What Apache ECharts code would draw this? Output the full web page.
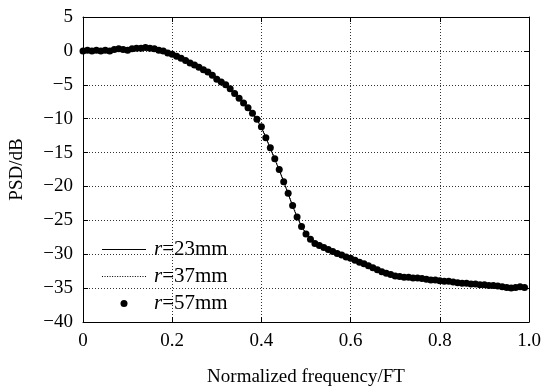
<!DOCTYPE html>
<html><head><meta charset="utf-8">
<script src="https://cdn.jsdelivr.net/npm/echarts@6/dist/echarts.min.js"></script>
<style>html,body{margin:0;padding:0;background:#fff}#c{width:546px;height:392px}</style>
</head><body><div id="c"></div>
<script>
var freq = [];
for (var i = 0; i < 100; i++) freq.push(+(i * 0.01).toFixed(2));

var psd57 = [0.0,0.1,0.0,0.1,0.0,0.1,0.0,0.2,0.3,0.2,
  0.1,0.3,0.4,0.4,0.5,0.4,0.3,0.1,0.0,-0.3,
  -0.5,-0.8,-1.1,-1.4,-1.8,-2.1,-2.4,-2.8,-3.1,-3.6,
  -4.2,-4.6,-5.0,-5.6,-6.3,-7.0,-7.7,-8.4,-9.2,-10.1,
  -11.2,-12.8,-14.3,-15.9,-17.5,-19.3,-21.0,-22.8,-24.5,-25.9,
  -27.0,-27.8,-28.4,-28.7,-29.0,-29.3,-29.6,-29.9,-30.1,-30.4,
  -30.6,-30.9,-31.2,-31.4,-31.7,-32.0,-32.3,-32.6,-32.8,-33.0,
  -33.2,-33.3,-33.4,-33.4,-33.5,-33.5,-33.6,-33.7,-33.8,-33.8,
  -33.9,-34.0,-34.0,-34.1,-34.2,-34.3,-34.3,-34.4,-34.4,-34.5,
  -34.5,-34.6,-34.6,-34.7,-34.8,-34.9,-35.0,-34.9,-34.8,-34.9];
var psd23 = [0.0,0.0,0.1,0.0,0.1,0.0,0.1,0.2,0.2,0.2,
  0.2,0.3,0.4,0.5,0.5,0.4,0.3,0.1,-0.1,-0.3,
  -0.5,-0.8,-1.1,-1.4,-1.8,-2.1,-2.4,-2.8,-3.2,-3.7,
  -4.2,-4.6,-5.1,-5.6,-6.3,-7.0,-7.7,-8.4,-9.3,-10.2,
  -11.3,-12.8,-14.4,-16.0,-17.6,-19.3,-21.1,-22.9,-24.5,-25.9,
  -27.0,-27.8,-28.4,-28.8,-29.1,-29.4,-29.7,-29.9,-30.2,-30.4,
  -30.7,-31.0,-31.2,-31.5,-31.8,-32.1,-32.4,-32.6,-32.9,-33.1,
  -33.3,-33.4,-33.5,-33.5,-33.6,-33.7,-33.8,-33.9,-34.0,-34.0,
  -34.1,-34.2,-34.2,-34.3,-34.4,-34.5,-34.5,-34.6,-34.7,-34.7,
  -34.8,-34.9,-34.9,-35.0,-35.1,-35.2,-35.3,-35.2,-35.0,-34.9];
var psd37 = [0.0,0.1,0.1,0.0,0.0,0.1,0.1,0.1,0.2,0.3,
  0.2,0.3,0.3,0.4,0.5,0.5,0.3,0.2,0.0,-0.2,
  -0.5,-0.8,-1.1,-1.5,-1.8,-2.1,-2.5,-2.8,-3.1,-3.6,
  -4.1,-4.6,-5.0,-5.6,-6.2,-6.9,-7.6,-8.4,-9.2,-10.1,
  -11.2,-12.7,-14.3,-15.9,-17.5,-19.2,-21.0,-22.8,-24.4,-25.8,
  -26.9,-27.8,-28.4,-28.8,-29.0,-29.3,-29.6,-29.9,-30.1,-30.4,
  -30.6,-30.9,-31.2,-31.5,-31.8,-32.1,-32.4,-32.6,-32.8,-33.0,
  -33.2,-33.3,-33.4,-33.5,-33.5,-33.6,-33.7,-33.8,-33.9,-33.9,
  -34.0,-34.1,-34.1,-34.2,-34.3,-34.4,-34.4,-34.5,-34.6,-34.6,
  -34.7,-34.8,-34.8,-34.9,-35.0,-35.1,-35.2,-35.1,-34.9,-34.9];

var seriesNames = ['r=23mm', 'r=37mm', 'r=57mm'];
var xTickLabels = ['0','0.2','0.4','0.6','0.8','1.0'];
var yTickLabels = ['\u221240','\u221235','\u221230','\u221225','\u221220','\u221215','\u221210','\u22125','0','5'];

function pairs(ys){ return freq.map(function(x,i){ return [x, ys[i]]; }); }

// legend sample icons (solid and dotted horizontal strokes)
var solidIcon = 'path://M0,0h44v1h-44z';
var dottedIcon = 'path://';
for (var k = 0; k < 44; k += 2.5) dottedIcon += 'M' + k + ',0h1v1h-1z';

var FONT = '"Liberation Serif", "Times New Roman", serif';
var grid = {left:81, right:17, top:17, bottom:70};
var dotted = {show:true, lineStyle:{color:'#333', type:[1,2], width:1}};

var chart = echarts.init(document.getElementById('c'));
chart.setOption({
  animation:false,
  backgroundColor:'#fff',
  grid: grid,
  legend: {
    left:97, top:234, orient:'vertical', itemWidth:44, itemHeight:7, itemGap:6,
    data: [
      {name:seriesNames[0], icon:solidIcon},
      {name:seriesNames[1], icon:dottedIcon},
      {name:seriesNames[2], icon:'circle'}
    ],
    itemStyle:{opacity:1},
    formatter: function(n){ return '{i|r}{t|' + n.slice(1) + '}'; },
    textStyle: {fontFamily:FONT, fontSize:21, color:'#000', lineHeight:20,
      rich:{ i:{fontFamily:FONT, fontSize:21, fontStyle:'italic', color:'#000', lineHeight:20, padding:[0,0,0,3]},
             t:{fontFamily:FONT, fontSize:21, color:'#000', lineHeight:20} } }
  },
  xAxis: [{
    type:'value', min:0, max:1, interval:0.2,
    name:'Normalized frequency/FT', nameLocation:'middle', nameGap:46,
    nameTextStyle:{fontFamily:FONT, fontSize:19, color:'#000'},
    axisLine:{show:true, onZero:false, lineStyle:{color:'#000', width:1}},
    axisTick:{show:true, inside:true, length:5, lineStyle:{color:'#000'}},
    axisLabel:{fontFamily:FONT, fontSize:19, color:'#000', margin:10,
      formatter:function(v){ return xTickLabels[Math.round(v/0.2)]; }},
    splitLine: dotted
  },{
    type:'value', min:0, max:1, interval:0.2, position:'top',
    axisLine:{show:true, onZero:false, lineStyle:{color:'#000', width:1}},
    axisTick:{show:true, inside:true, length:5, lineStyle:{color:'#000'}},
    axisLabel:{show:false}, splitLine:{show:false}
  }],
  yAxis: [{
    type:'value', min:-40, max:5, interval:5,
    name:'PSD/dB', nameLocation:'middle', nameGap:56,
    nameTextStyle:{fontFamily:FONT, fontSize:19, color:'#000'},
    axisLine:{show:true, onZero:false, lineStyle:{color:'#000', width:1}},
    axisTick:{show:true, inside:true, length:5, lineStyle:{color:'#000'}},
    axisLabel:{fontFamily:FONT, fontSize:19, color:'#000', margin:10,
      formatter:function(v){ return yTickLabels[Math.round((v+40)/5)]; }},
    splitLine: dotted
  },{
    type:'value', min:-40, max:5, interval:5, position:'right',
    axisLine:{show:true, onZero:false, lineStyle:{color:'#000', width:1}},
    axisTick:{show:true, inside:true, length:5, lineStyle:{color:'#000'}},
    axisLabel:{show:false}, splitLine:{show:false}
  }],
  series: [
    {name:seriesNames[0], type:'line', data:pairs(psd23), symbol:'none',
     lineStyle:{color:'#000', width:1}, itemStyle:{color:'#000'}, z:3},
    {name:seriesNames[1], type:'line', data:pairs(psd37), symbol:'none',
     lineStyle:{color:'#000', width:1, type:[1,1.5]}, itemStyle:{color:'#000'}, z:3},
    {name:seriesNames[2], type:'scatter', data:pairs(psd57), symbol:'circle', symbolSize:7,
     itemStyle:{color:'#000', opacity:1}, z:4}
  ]
});
</script></body></html>
